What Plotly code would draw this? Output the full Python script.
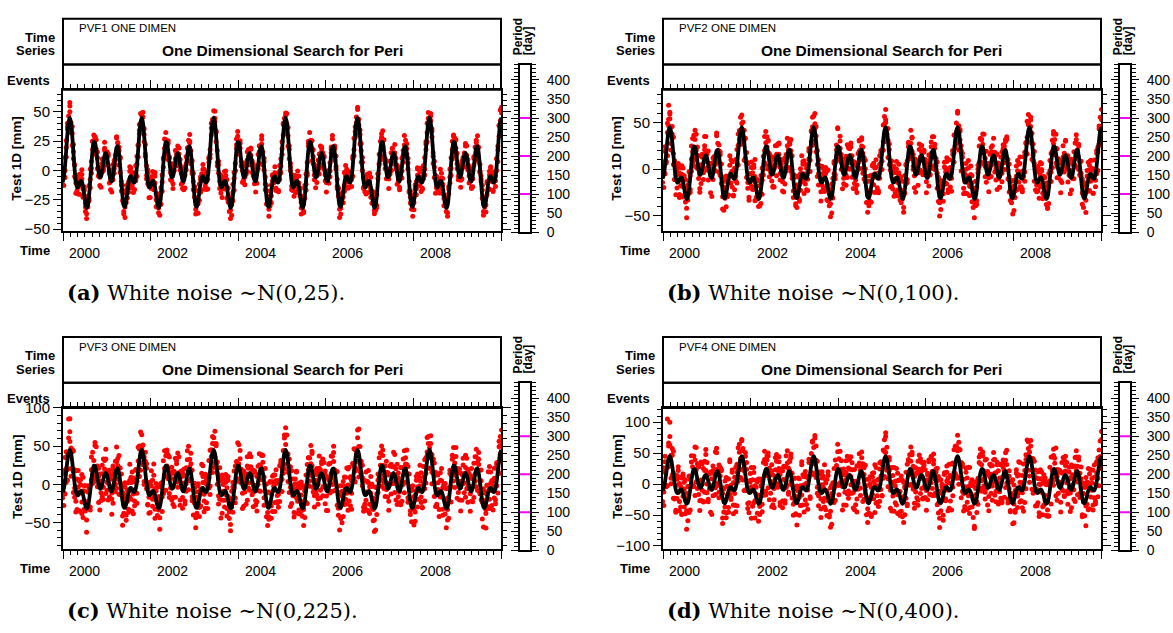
import numpy as np
import pandas as pd
import plotly.graph_objects as go

W, H = 1173, 633

# Seasonal model (mm), sampled every 10 days from 1999-12-29
sample_start = "1999-12-29"
sample_step = "10D"
model_mm = [
    -10.1, -5.7, 4.1, 17.6, 31.3, 41.5,
    45.0, 40.6, 29.6, 15.1, 1.0, -9.3, -14.1, -14.0, -11.2, -8.8,
    -9.3, -13.7, -20.9, -28.0, -31.9, -30.0, -21.7, -8.7, 5.9, 17.9,
    24.3, 23.8, 17.3, 7.8, -0.9, -5.7, -5.2, -0.1, 7.1, 13.0,
    15.0, 12.1, 5.4, -2.6, -8.3, -9.3, -4.9, 3.7, 13.1, 19.8,
    20.7, 14.8, 3.4, -10.4, -22.6, -30.0, -31.0, -26.3, -18.4, -10.6,
    -5.7, -4.8, -7.0, -9.8, -10.1, -5.7, 4.1, 17.6, 31.3, 41.5,
    45.0, 40.6, 29.6, 15.1, 1.0, -9.3, -14.1, -14.0, -11.2, -8.8,
    -9.3, -13.7, -20.9, -28.0, -31.9, -30.0, -21.7, -8.7, 5.9, 17.9,
    24.3, 23.8, 17.3, 7.8, -0.9, -5.7, -5.2, -0.1, 7.1, 13.0,
    15.0, 12.1, 5.4, -2.6, -8.3, -9.3, -4.9, 3.7, 13.1, 19.8,
    20.7, 14.8, 3.4, -10.4, -22.6, -30.0, -31.0, -26.3, -18.4, -10.6,
    -5.7, -4.8, -7.0, -9.8, -10.1, -5.7, 4.1, 17.6, 31.3, 41.5,
    45.0, 40.6, 29.6, 15.1, 1.0, -9.3, -14.1, -14.0, -11.2, -8.8,
    -9.3, -13.7, -20.9, -28.0, -31.9, -30.0, -21.7, -8.7, 5.9, 17.9,
    24.3, 23.8, 17.3, 7.8, -0.9, -5.7, -5.2, -0.1, 7.1, 13.0,
    15.0, 12.1, 5.4, -2.6, -8.3, -9.3, -4.9, 3.7, 13.1, 19.8,
    20.7, 14.8, 3.4, -10.4, -22.6, -30.0, -31.0, -26.3, -18.4, -10.6,
    -5.7, -4.8, -7.0, -9.8, -10.1, -5.7, 4.1, 17.6, 31.3, 41.5,
    45.0, 40.6, 29.6, 15.1, 1.0, -9.3, -14.1, -14.0, -11.2, -8.8,
    -9.3, -13.7, -20.9, -28.0, -31.9, -30.0, -21.7, -8.7, 5.9, 17.9,
    24.3, 23.8, 17.3, 7.8, -0.9, -5.7, -5.2, -0.1, 7.1, 13.0,
    15.0, 12.1, 5.4, -2.6, -8.3, -9.3, -4.9, 3.7, 13.1, 19.8,
    20.7, 14.8, 3.4, -10.4, -22.6, -30.0, -31.0, -26.3, -18.4, -10.6,
    -5.7, -4.8, -7.0, -9.8, -10.1, -5.7, 4.1, 17.6, 31.3, 41.5,
    45.0, 40.6, 29.6, 15.1, 1.0, -9.3, -14.1, -14.0, -11.2, -8.8,
    -9.3, -13.7, -20.9, -28.0, -31.9, -30.0, -21.7, -8.7, 5.9, 17.9,
    24.3, 23.8, 17.3, 7.8, -0.9, -5.7, -5.2, -0.1, 7.1, 13.0,
    15.0, 12.1, 5.4, -2.6, -8.3, -9.3, -4.9, 3.7, 13.1, 19.8,
    20.7, 14.8, 3.4, -10.4, -22.6, -30.0, -31.0, -26.3, -18.4, -10.6,
    -5.7, -4.8, -7.0, -9.8, -10.1, -5.7, 4.1, 17.6, 31.3, 41.5,
    45.0, 40.6, 29.6, 15.1, 1.0, -9.3, -14.1, -14.0, -11.2, -8.8,
    -9.3, -13.7, -20.9, -28.0, -31.9, -30.0, -21.7, -8.7, 5.9, 17.9,
    24.3, 23.8, 17.3, 7.8, -0.9, -5.7, -5.2, -0.1, 7.1, 13.0,
    15.0, 12.1, 5.4, -2.6, -8.3, -9.3, -4.9, 3.7, 13.1, 19.8,
    20.7, 14.8, 3.4, -10.4, -22.6, -30.0, -31.0, -26.3, -18.4, -10.6,
    -5.7, -4.8, -7.0, -9.8, -10.1, -5.7, 4.1, 17.6, 31.3, 41.5,
    45.0,
]

# Observations as departures from the model (mm):
# two per sample date in resid_*, one more per sample date in extra_*
resid_pvf1 = [
    3, -2, 6, 1, -4, 7, 2, -6, 9, 4, 5, -1, 13, 5, 0, -7, 2, 8, -5, 1,
    -6, 4, 2, -1, 8, -3, 0, 5, -9, 3, 1, -4, 6, 2, -2, -8, 4, 7, -3, 0,
    5, -5, -1, 3, 9, -2, -6, 1, 2, -4, 7, 0, -3, 6, -10, 4, 1, -2, 3, 8,
    -4, 2, 0, -7, 5, 3, -1, 6, -2, -5, 4, 11, -3, 1, 2, -6, 7, -1, 0, 3,
    1, -8, 4, 2, -3, 6, 5, -2, -4, 0, 8, -6, 3, -1, 2, 5, -5, 7, -2, 1,
    6, -3, -7, 2, 0, 4, -1, 9, 3, -5, -2, 1, 5, -4, 7, 0, -6, 2, 3, -9,
    2, 5, -1, -3, 8, 1, -6, 4, 0, 3, -2, 7, -8, 2, 5, -4, 1, 6, -3, -1,
    -5, 3, 7, -2, 1, -9, 4, 0, 6, -3, 2, -1, -6, 5, 3, 12, -4, 1, -2, 8,
    0, -4, 2, 6, -7, 3, 5, -1, -3, 4, 1, -5, 8, 2, -2, 0, 6, -8, 3, 4,
    -1, 7, -3, 2, 4, -6, 0, 5, 3, -2, -9, 1, 6, -4, 2, 7, -1, -5, 4, 0,
    3, -2, 5, -7, 1, 8, -3, 2, -5, 6, 0, -1, 4, 3, -8, 2, 5, -4, 1, -6,
    7, 0, -3, 4, 2, -5, 9, -2, 1, -7, 3, 5, -1, 0, 6, -4, -2, 8, 2, -3,
    -6, 1, 4, -2, 3, 7, -4, 0, 5, -1, -8, 2, 6, -3, 1, 4, -5, 3, -11, 2,
    4, -3, 0, 6, -5, 2, 8, -1, -4, 3, 1, -7, 5, 2, -2, 6, 0, -6, 3, 1,
    -2, 5, -8, 1, 3, -4, 7, 2, 0, -6, 4, 1, -3, 9, -1, -5, 2, 6, -4, 0,
    1, 6, -2, -5, 4, 0, -3, 7, 2, -8, 5, -1, 3, -4, 6, 1, -7, 2, 4, -2,
    -3, 2, 7, -1, -6, 4, 1, -2, 8, 3, -5, 0, 2, 6, -9, 1, 4, -3, 5, -1,
    5, -6, 1, 3, -2, 9, -4, 0, 6, -3, 2, 7, -1, -5, 3, 0, -8, 4, 1, 2,
    -7, 3, 5, -2, 0, 6, -4, 1, -1, 8, 3, -6, 2, 4, -3, -1, 7, 0, -5, 3,
    2, -1, -4, 6, 5, -3, 1, 8, -7, 0, 4, 2, -2, -6, 9, 3, -1, 5, -4, 1,
    0, 4, -5, 2, 7, -2, -3, 6, 1, -8, 3, 5, -4, 0, 2, -6, 8, 1, -2, 4,
    -3, 6, 2, -9, 1, 4, -1, 3, -5, 7, 0, -2, 5, 1, -7, 3, 6, -4, 2, -1,
    4, -2, 8, 1, -6, 0, 3, -4, 5, 2, -3, 7, -1, -8, 4, 6, -2, 0, 3, -5,
    1, 7, -3, 5, -1, -6, 2, 4, 0, -4, 9, -2, 3, 1, -5, 6, -7, 2, 5, 0,
    -4, 3, 1, -2, 6, 8, -5, 0, 2, -3, 4, -1, -6, 7, 3, -2, 1, 5, -8, 2,
    6, -1, -5, 3, 0, 4, 7, -6, 1, 2, -3, 5, -4, 0, 8, -2, 3, -7, 1, 4,
    -2, 5, 3, -4, 1, -8, 6, 2, -1, 0, 7, -5, 4, 3, -3, 1, -6, 9, 2, -2,
    3, -6, 0, 4, -2, 5, 1, -3, 8, -7, 2, 6, -1, -4, 3, 0, 5, -2, -9, 4,
    -1, 2, 6, -5, 3, 1, -4, 7, 0, 4, -6, 2, 5, -3, -1, 8, -2, 3, 1, -7,
    5, 0, -3, 2, -8, 6, 4, -1, -2, 3, 1, -5, 7, 2, -4, 0, 6, -6, 3, 1,
    -5, 4, 2, -1, 7, -3, 0, 5, -7, 1, 3, 8, -2, -4, 6, 2, -1, 4, -3, 0,
    2, -7, 5, 3, -1, 0, 6, -4, 4, -2, -5, 1, 3, 7, -6, 2, 0, -3, 5, 1,
    -3, 1, 4, -6, 2, 8, -2, 3, -4, 5, 0, -8, 6, 1, -1, 4, -5, 2, 7, -2,
    4, -4, 1, 6, -3, 2, 5, -7, 0, 3, 2, -1, -6, 8, 1, -3, 4, 0, -2, 6,
    0, 3, -6, 2, 5, -2, 7, 1, -4, -1, 4, 6, -3, 0, -7, 5, 2, -5, 3, 1,
    -1, 6, 2, -5, 3, 0, -3, 4, 8, -2, 1, -6, 5, 2, -4, 7, -1, 3, 0, -8,
    2, 5, -3, 1, 6, -4, 0, 3, -2, 7, -5, 1, 4, 9,
]
extra_pvf1 = [
    9, -7, -10, 8, 6, -9, 10, -5, -8, 7, 4, -10, 9, -6, 8, -3, 10, -9, 6, -7,
    -9, 8, -4, 10, -8, 7, -10, 5, 9, -6, -3, 8, -9, 10, -7, 6, -10, 4, 9, -8,
    7, -9, 10, -6, -8, 9, 3, -10, 8, -7, 10, -5, -9, 7, 6, -8, 9, -10, 5, 8,
    -6, 10, -9, 4, 8, -7, -10, 9, -5, 7, -8, 10, 6, -9, -4, 8, -7, 9, -10, 6,
    10, -8, 7, -9, 5, 9, -6, -10, 8, 3, -7, 9, -10, 6, 10, -5, -8, 7, 4, -9,
    -7, 9, -10, 8, -4, 6, 10, -9, -6, 8, 9, -7, 5, -10, 7, -8, 3, 10, -9, 6,
    8, -10, 6, -7, 9, -5, -9, 10, 4, -8, 7, -6, 10, -9, -3, 8, 9, -10, 6, -7,
    -9, 7, 10, -8, -6, 9, 5, -10, 8, -4, -9, 10, -7, 6, 9, -8, -10, 7, 3, 8,
    6, -9, 8, 10, -7, -5, 9, -10, 7, -6, 10, 4, -8, 9, -9, 6, -4, 8, -10, 7,
    -8, 10, -6, 7, 9, -10, -3, 8, -9, 6, 5, -7, 10, -8, 7, -10, 9, -5, 6, -9,
    10, -6, 9, -8, -10, 7, 8, -4, -9, 10, -7, 6, -5, 9, -10, 8, 4, -9, 7, -6,
    -10, 8, 5, -9, 7, 10, -8, -6, 9, -3, 8, -10, 6, 7, -9, -7, 10, 5, -8, 9,
    7, -8, -9, 10, 6, -5, 9, -10, -7, 8, 10, -6, -4, 9, 8, -10, 7, -9, 3, 10,
    -5, 9, -10, 6, 8, -9, 7, 10, -8, -6, 9, 5, -10, 8, -7, 6, -9, 10, -4, 7,
    9, -7, 8, -10, -6, 10, -9, 4, 7, -8, -5, 9, 10, -7, 6, -10, 8, -3, 9, -8,
    -6, 10, -8, 7, 9, -4, -10, 8, 6, -9, 7, -10, 9, 5, -8, 10, -6, 7, -9, 4,
    8, -9, 6, 10, -10, 7, 5, -8, 9, -6, -7, 10, -9, 8, 4, -10, 6, 9, -5, -8,
    10, -5, -9, 8, 7, -10, 9, -7, -4, 6, 10, -8, 7, -9, 9, -6, -10, 8, 5, -7,
    9, -8, 6, -10, 7, 10, -6,
]
resid_pvf2 = [
    6, -4, 12, 3, -9, 15, 4, -11, 18, 8, 27, 5, 9, 14, -2, -13, 5, 16, -10, 2,
    -12, 8, 3, -2, 17, -6, 1, 10, -19, 7, 2, -9, 13, 4, -5, -16, 9, 14, -7, 0,
    11, -10, -3, 6, 19, -4, -13, 2, 5, -8, 15, 1, -6, 12, -21, 8, 3, -4, 7, 16,
    -9, 5, 0, -15, 10, 6, -2, 13, -5, -11, 8, 22, -7, 3, 4, -12, 14, -3, 1, 6,
    2, -17, 9, 4, -6, 12, 10, -4, -8, 1, 16, -13, 7, -2, 5, 11, -10, 15, -5, 3,
    13, -7, -14, 4, 0, 9, -3, 19, 6, -11, -4, 2, 10, -9, 15, 1, -12, 5, 7, -18,
    4, 11, -2, -7, 17, 3, -13, 8, 1, 6, -5, 14, -16, 4, 10, -8, 2, 12, -6, -3,
    -10, 7, 15, -5, 2, -19, 9, 0, 13, -7, 5, -2, -12, 11, 6, 24, -9, 3, -4, 17,
    1, -8, 5, 12, -15, 6, 10, -3, -6, 8, 2, -11, 16, 4, -5, 0, 13, -17, 7, 9,
    -2, 14, -7, 5, 9, -13, 1, 11, 6, -4, -20, 3, 12, -8, 4, 15, -3, -10, 8, 0,
    7, -5, 10, -15, 3, 17, -6, 4, -11, 12, 1, -2, 9, 6, -17, 5, 11, -9, 2, -13,
    14, 0, -7, 8, 4, -10, 19, -4, 2, -14, 6, 11, -3, 1, 13, -9, -5, 16, 5, -6,
    -12, 3, 9, -5, 7, 15, -8, 1, 10, -2, -16, 4, 12, -6, 3, 8, -11, 6, -23, 5,
    9, -6, 1, 13, -10, 4, 17, -3, -9, 7, 2, -15, 11, 5, -4, 12, 0, -13, 6, 3,
    -5, 10, -17, 2, 7, -9, 15, 4, 1, -12, 8, 3, -7, 19, -2, -11, 5, 13, -8, 0,
    3, 12, -4, -10, 9, 1, -6, 14, 5, -16, 10, -2, 7, -8, 12, 2, -14, 4, 8, -5,
    -7, 5, 15, -2, -12, 8, 3, -4, 17, 6, -10, 1, 4, 13, -19, 2, 9, -6, 11, -3,
    10, -13, 2, 7, -5, 18, -8, 1, 12, -6, 4, 15, -3, -11, 6, 0, -17, 9, 3, 5,
    -15, 6, 11, -4, 1, 13, -9, 3, -2, 16, 7, -12, 5, 8, -6, -3, 14, 1, -10, 6,
    4, -2, -9, 12, 10, -7, 2, 17, -14, 1, 9, 5, -5, -13, 19, 6, -3, 11, -8, 2,
    0, 9, -11, 5, 15, -4, -7, 13, 3, -17, 6, 10, -9, 1, 4, -12, 16, 2, -5, 8,
    -6, 12, 4, -19, 3, 8, -2, 7, -11, 14, 0, -4, 10, 3, -15, 6, 13, -8, 5, -3,
    9, -5, 16, 2, -13, 1, 7, -9, 11, 4, -7, 15, -2, -17, 8, 12, -4, 0, 6, -10,
    2, 14, -6, 10, -3, -12, 5, 9, 1, -8, 18, -5, 7, 3, -11, 13, -15, 4, 10, 0,
    -9, 6, 3, -4, 12, 16, -10, 0, 5, -7, 8, -2, -13, 15, 6, -4, 2, 11, -17, 5,
    12, -3, -11, 7, 1, 9, 14, -12, 3, 4, -6, 10, -9, 0, 17, -5, 6, -14, 2, 8,
    -4, 11, 6, -9, 2, -16, 13, 5, -3, 1, 15, -10, 8, 7, -6, 3, -12, 20, 4, -5,
    7, -13, 0, 9, -4, 11, 2, -7, 16, -15, 5, 12, -2, -9, 6, 1, 10, -5, -19, 8,
    -2, 4, 13, -10, 6, 3, -8, 15, 1, 9, -13, 5, 11, -6, -3, 17, -4, 7, 2, -14,
    10, 1, -6, 5, -17, 12, 8, -3, -5, 7, 3, -11, 15, 4, -9, 0, 13, -12, 6, 2,
    -11, 8, 4, -2, 14, -7, 1, 10, -15, 3, 6, 17, -4, -8, 12, 5, -2, 9, -6, 0,
    5, -14, 11, 6, -3, 1, 13, -9, 8, -5, -10, 2, 7, 15, -12, 4, 0, -7, 10, 3,
    -6, 2, 9, -12, 4, 17, -4, 7, -9, 11, 1, -16, 13, 3, -2, 8, -11, 5, 14, -5,
    8, -8, 3, 12, -7, 5, 10, -14, 0, 6, 4, -3, -12, 16, 2, -6, 9, 1, -4, 13,
    1, 7, -13, 4, 11, -5, 15, 2, -9, -2, 8, 12, -6, 0, -15, 10, 5, -10, 6, 3,
    -3, 12, 5, -11, 7, 0, -7, 9, 17, -4, 2, -13, 10, 5, -8, 14, -2, 6, 1, -16,
    4, 10, -6, 3, 13, -9, 1, 6, -5, 15, -11, 2, 8, 19,
]
extra_pvf2 = [
    18, -14, 20, -9, -17, 12, 16, -20, 8, 19, -12, -18, 14, 20, -16, 10, -19, 15, -8, 17,
    -20, 13, 9, -16, 19, -11, -14, 18, 20, -7, 15, -19, -10, 16, -18, 12, 20, -13, -17, 9,
    14, -20, 17, 8, -15, 19, -9, -18, 12, 16, -20, 11, 18, -14, 7, -17, 20, -10, 15, -19,
    -12, 16, -19, 20, 10, -15, 13, -8, -20, 18, 17, -11, -16, 9, 19, -13, 14, -20, 8, 16,
    20, -9, 15, -18, -12, 17, -20, 11, 14, -16, 9, 19, -14, -19, 18, 12, -8, 16, -17, 13,
    -15, 19, -11, 12, 20, -18, 8, 17, -13, -20, 16, -9, 14, 18, -16, -12, 20, 10, -19, 15,
    11, -17, 18, -20, 9, 14, -15, 19, 16, -10, -18, 13, -20, 17, 12, -14, 8, -19, 20, -11,
    -19, 14, 12, 17, -16, -9, 20, -13, 18, 8, -20, 15, 10, -17, 19, -12, -15, 16, 9, -18,
    16, -12, -20, 13, 18, -19, 11, 9, -14, 20, 15, -16, -8, 19, -17, 14, 12, -20, 17, -10,
    -13, 20, 16, -18, -11, 15, 19, -9, -17, 12, -20, 18, 14, -15, 8, 17, -19, 10, -12, 20,
    19, -16, 9, 14, -20, 11, -13, 18, 17, -8, -19, 16, 12, -17, 20, -14, 10, -18, 15, 13,
    -17, 12, 20, -10, 16, -19, 14, -15, 8, 18, -12, -20, 19, 11, -16, 13, -9, 17, -18, 20,
    12, -18, 15, 19, -9, -14, 17, -20, 13, 10, 16, -17, -11, 20, -15, 18, -19, 8, 14, -13,
    -20, 17, -12, 9, 19, 15, -18, 14, -10, -16, 20, 12, -19, 16, 11, -8, 18, -15, -17, 19,
    15, -10, 18, -17, 13, -20, 9, 20, -14, 16, -11, 17, 19, -18, -12, 14, -16, 10, 20, -9,
    -14, 19, -17, 11, 20, 8, -16, 15, -19, 12, 18, -13, -10, 17, -20, 16, 9, -18, 13, 19,
    17, -11, -15, 18, -19, 13, 16, -8, 20, -17, 12, 14, -20, 9, 18, -16, 15, -12, -19, 11,
    -18, 20, 10, -14, 15, 17, -19, 12, -9, 19, -15, 16, 13, -20, 11, 18, -17, 14, 8, -16,
    20, -13, 16, -19, 12, 14, -10,
]
resid_pvf3 = [
    -8, 14, 21, -5, 9, -17, 3, 25, -12, 6, 44, -3, 41, 11, -20, 7, 16, -9, 2, -26,
    18, -6, -13, 27, 4, -19, 10, 1, -24, 15, 8, -2, 22, -14, 5, -30, 12, 19, -7, 3,
    -15, 9, 28, -1, -10, 17, 6, -21, 13, 0, -5, 24, -18, 7, 31, -12, 2, -8, 16, -3,
    11, -23, 4, 19, -6, 9, -16, 14, 26, -11, 1, 7, -27, 18, 3, -9, 12, -4, 21, -14,
    6, 15, -10, -2, 29, -20, 8, 3, -13, 17, 10, -25, 4, 13, -7, 23, -1, -17, 9, 5,
    -19, 12, 2, -8, 16, 33, -14, 6, -4, 20, -22, 1, 11, -11, 7, 14, -28, 10, -3, 18,
    3, -12, 24, 9, -16, 0, 13, -6, 19, -21, 5, 27, -9, 2, -15, 11, 6, -26, 15, 8,
    -7, 20, -18, 4, 12, -3, -23, 17, 1, 9, -11, 14, 36, -5, 8, -19, 22, 0, -13, 10,
    16, -2, 7, -29, 18, 5, -8, 11, -17, 25, 3, -6, 13, -14, 0, 21, -10, 4, 28, -20,
    -4, 9, -15, 22, 2, -12, 17, 7, -24, 6, 14, -1, -19, 26, -7, 3, 10, -33, 12, 1,
    23, -9, 5, 11, -21, 16, -3, -13, 8, 19, -5, 30, -16, 2, 12, -8, -25, 15, 4, -11,
    -2, 18, -27, 6, 14, -7, 24, 1, -12, 9, -18, 3, 20, -4, 7, 29, -15, -6, 13, -22,
    10, -14, 2, 17, -9, 4, -20, 27, 5, -1, 12, -26, 8, 16, -5, -13, 21, -3, 0, 14,
    -16, 6, 31, -10, 3, 19, -7, -24, 11, 2, 15, -12, -4, 22, 9, -18, 5, 26, -8, -1,
    13, -21, 8, 0, -15, 24, 4, -9, 18, -30, 7, 12, -2, -17, 28, 3, -11, 16, -6, 9,
    -11, 4, 19, -23, 10, -5, 14, 2, -28, 17, -3, 8, 25, -13, 1, 11, -19, 6, 20, -8,
    7, 26, -12, 3, -18, 15, 9, -4, -22, 12, 4, -14, 18, 0, -9, 23, 6, -31, 10, 2,
    -20, 11, 5, -7, 21, -15, 2, 30, -10, 6, -25, 14, 3, -2, 17, -19, 8, 12, -5, -13,
    15, -3, -17, 9, 1, 27, -11, 4, 13, -6, -21, 19, -8, 7, 24, -1, -14, 10, 3, -26,
    -5, 22, 6, -16, 12, -1, -29, 8, 18, 2, -9, 25, -13, 4, 11, -20, 16, 0, -7, 14,
    9, -10, 28, -3, -22, 13, 5, -15, 20, -6, 1, 17, -27, 10, 3, -12, 23, 7, -18, 4,
    -14, 16, -4, 11, 26, -9, 0, -19, 8, 14, -31, 6, 12, -2, -16, 21, 2, -8, 15, -23,
    6, -7, 19, -25, 3, 10, -13, 24, 1, -5, 17, -20, 9, 29, -11, 4, -3, 13, -17, 7,
    -9, 12, 2, 18, -14, 5, -24, 11, 22, -3, 8, -16, 0, 15, -7, -21, 27, 6, -12, 3,
    20, -18, 10, -6, 1, 23, -10, 7, -28, 14, 5, -2, 16, -15, 9, 32, -4, -13, 11, -1,
    -3, 8, -21, 13, 19, -12, 4, -7, 15, 0, -26, 11, 6, -17, 24, 2, -9, 18, -5, 10,
    12, -15, 5, -30, 9, 17, -2, 22, -8, 3, -13, 7, 26, -19, 1, 14, -6, -23, 8, 16,
    -6, 3, 21, -11, -17, 6, 13, 0, -20, 19, 10, -4, -14, 8, 27, -9, 4, 15, -24, 2,
    17, -8, -1, 12, 5, -22, 18, -5, 9, -13, 24, 3, -18, 6, -2, 11, -27, 20, 7, -10,
    -12, 14, 7, -19, 23, 1, -6, 10, 4, -30, 16, -9, 2, 19, -4, -15, 12, 5, 25, -7,
    2, -20, 15, 8, -10, 28, -3, -16, 11, 6, -7, 21, -24, 3, 13, -1, 9, -14, 18, 0,
    -17, 10, -5, 25, 4, -12, 7, 16, -22, 1, 14, -8, 30, -6, -19, 9, 2, 20, -11, 5,
    8, -25, 12, -3, 17, 0, -14, 23, 6, -9, -2, 15, -20, 11, 4, -28, 19, -4, 7, 13,
    -10, 5, 26, -15, 2, 9, -21, 13, -6, 18, 1, -11, 7, -32, 22, 3, -8, 14, -1, 10,
    19, -4, -13, 6, 12, -18, 3, 24, -9, 0, -23, 16, 8, -5, 11, 27, -16, 1, -10, 15,
    -1, 13, -26, 9, 4, 20, -7, -12, 17, 5, -19, 2, 29, -14, 6, -3, 10, -21, 14, 7,
    -8, 18, 3, -15, 22, -6, 11, 1, -17, 25, -2, 9, -12, 26,
]
extra_pvf3 = [
    28, -22, 31, -15, -26, 19, 24, -30, 13, 29, -18, -27, 21, 32, -24, 15, -29, 23, -12, 26,
    -31, 20, 14, -25, 30, -17, -21, 27, 32, -11, 22, -28, -16, 25, -27, 18, 31, -20, -26, 14,
    21, -30, 26, 12, -23, 29, -14, -28, 18, 24, -31, 17, 27, -21, 11, -26, 32, -15, 23, -29,
    -18, 25, -29, 31, 15, -23, 20, -12, -30, 27, 26, -17, -24, 14, 29, -20, 21, -31, 12, 24,
    30, -14, 23, -27, -18, 26, -32, 17, 21, -25, 14, 28, -21, -29, 27, 18, -12, 24, -26, 20,
    -23, 29, -17, 18, 31, -27, 12, 26, -20, -30, 24, -14, 21, 27, -24, -18, 32, 15, -29, 23,
    17, -26, 27, -31, 14, 21, -23, 29, 24, -15, -27, 20, -30, 26, 18, -21, 12, -28, 31, -17,
    -29, 21, 18, 26, -24, -14, 30, -20, 27, 12, -31, 23, 15, -26, 29, -18, -23, 24, 14, -27,
    24, -18, -30, 20, 27, -29, 17, 14, -21, 31, 23, -24, -12, 29, -26, 21, 18, -31, 26, -15,
    -20, 30, 24, -27, -17, 23, 29, -14, -26, 18, -30, 27, 21, -23, 12, 26, -29, 15, -18, 31,
    29, -24, 14, 21, -31, 17, -20, 27, 26, -12, -29, 24, 18, -26, 30, -21, 15, -27, 23, 20,
    -26, 18, 31, -15, 24, -29, 21, -23, 12, 27, -18, -30, 29, 17, -24, 20, -14, 26, -27, 32,
    18, -27, 23, 29, -14, -21, 26, -31, 20, 15, 24, -26, -17, 30, -23, 27, -29, 12, 21, -20,
    -30, 26, -18, 14, 29, 23, -27, 21, -15, -24, 31, 18, -29, 24, 17, -12, 27, -23, -26, 29,
    23, -15, 27, -26, 20, -31, 14, 30, -21, 24, -17, 26, 29, -27, -18, 21, -24, 15, 32, -14,
    -21, 29, -26, 17, 30, 12, -24, 23, -29, 18, 27, -20, -15, 26, -31, 24, 14, -27, 20, 29,
    26, -17, -23, 27, -29, 20, 24, -12, 31, -26, 18, 21, -30, 14, 27, -24, 23, -18, -29, 17,
    -27, 30, 15, -21, 23, 26, -29, 18, -14, 29, -23, 24, 20, -31, 17, 27, -26, 21, 12, -24,
    31, -20, 24, -29, 18, 21, -15,
]
resid_pvf4 = [
    11, -18, 26, -7, 15, 32, -22, 9, 74, -4, 20, -13, 55, 18, -31, 6, 28, -15, 3, -38,
    -25, 14, 7, -33, 22, -9, 1, 36, -17, 12, -28, 5, 19, -40, 27, -6, 13, 24, -20, 2,
    17, -11, -29, 8, 35, -24, 4, 16, -7, 30, -19, 10, -3, 21, -42, 15, 6, -14, 25, -2,
    -16, 29, 3, -21, 12, 41, -10, 0, -35, 18, 9, -26, 33, 7, -12, 23, -30, 11, -5, 20,
    6, -37, 18, 2, -14, 27, 13, -8, 39, -19, 4, 31, -23, -1, 16, -28, 10, 22, -9, 34,
    -32, 8, 24, -15, 5, -6, 37, -20, 14, 1, -27, 19, 45, -11, 3, -17, 26, -3, 12, -24,
    21, -5, 10, -39, 28, 15, -13, 6, -22, 33, 0, -18, 25, 9, -34, 17, 2, -8, 30, -26,
    -9, 23, -30, 13, 4, -16, 31, 20, -44, 7, 16, -2, -21, 36, 11, -13, 5, 27, -19, 1,
    14, -28, 38, -6, 19, 3, -24, 12, 29, -17, -4, 22, -36, 8, 15, -10, 33, -23, 6, 18,
    -14, 5, 27, -31, 9, 20, -7, -25, 16, 2, 35, -12, 7, -20, 24, 13, -40, 10, -1, 26,
    30, -19, 3, 17, -26, 11, 42, -9, -15, 21, 6, -33, 18, 1, -11, 28, -5, 14, -22, 4,
    -7, 32, -18, 10, 23, -35, 5, 15, -3, 27, -24, 8, -12, 37, 2, -29, 19, 6, -16, 25,
    12, -23, 16, -4, 31, 7, -38, 20, 4, -13, 26, -1, -27, 14, 34, -8, 9, -19, 22, -30,
    -20, 18, 1, 29, -10, -26, 13, 24, -17, 6, 40, -14, 11, -32, 3, 21, -6, 35, -25, 8,
    26, -12, -35, 15, 7, 22, -21, 2, 33, -9, -18, 12, 28, -3, -41, 17, 5, -15, 10, 30,
    -3, 16, 25, -28, 11, -8, 19, 38, -23, 4, 13, -36, 9, 24, -13, 0, 29, -20, 7, -11,
    9, -33, 14, 6, -19, 34, -2, -12, 21, 17, -26, 3, 31, -7, 15, -43, 12, 23, -5, 1,
    -27, 20, 8, -10, 39, -16, 27, 4, -31, 13, -6, 22, -18, 10, 2, 36, -24, 5, 16, -9,
    18, 3, -22, 30, -13, 9, -37, 15, 24, -1, 11, -29, 6, 32, -15, 19, -4, -21, 28, 7,
    -11, 25, 12, -34, 17, -5, 2, 41, -19, 8, -25, 14, 27, -8, -2, 20, -30, 9, 35, -16,
    4, -21, 33, 10, -28, 16, 7, -14, 26, -38, 19, 1, -9, 23, 13, -24, 5, 30, -12, 21,
    -30, 13, -7, 22, 3, -17, 37, -26, 10, 17, -4, 28, -22, 6, -35, 14, 25, -10, 2, -19,
    15, -2, 27, -16, 9, 44, -20, 5, -11, 31, 1, -27, 18, 12, -6, -33, 21, 8, -23, 16,
    -8, 35, -25, 4, 20, -12, 11, 26, -40, 7, 29, -15, 3, -21, 24, 10, -3, 17, -29, 12,
    22, -17, 6, 38, -9, -23, 14, 1, 30, -14, -32, 20, 9, -5, 16, 27, -20, 2, -37, 13,
    -13, 28, 17, -6, -26, 10, 3, 33, -18, 21, -10, 5, 36, -29, 12, -2, 19, -16, 8, 25,
    5, -36, 23, 13, -7, 18, -24, 0, 29, -12, 15, 39, -19, 7, -30, 22, 4, -9, 31, -21,
    16, -6, -28, 26, 1, -15, 32, 11, -22, 9, -39, 17, 24, -11, 6, 28, -17, 13, -2, 34,
    -24, 11, 19, -3, 37, -18, 7, -31, 14, 20, -8, 2, -26, 30, 17, -13, 9, -34, 23, 3,
    27, -20, 4, 15, -33, 12, 25, -6, 8, -27, 34, 1, -14, 19, -9, 41, -22, 10, 6, -17,
    -4, 24, -38, 9, 18, -11, 30, -25, 3, 14, -19, 27, 7, -42, 21, 0, 12, -7, 26, -30,
    13, -9, 20, 32, -21, 6, -16, 23, 11, -35, 8, 17, -4, 29, -23, 15, 36, -13, 1, 10,
    -19, 31, 2, -12, 25, -30, 14, 7, -6, 38, -15, 4, 22, -26, 10, 18, -2, -36, 16, 5,
    20, -14, 9, 27, -24, 3, -8, 35, 12, -18, 26, -33, 6, 15, -10, 23, 1, -21, 30, -5,
    -6, 17, -29, 21, 4, 33, -13, 10, -41, 16, 2, 24, -17, 8, 29, -7, -25, 14, 5, 19,
    8, -27, 15, 1, -20, 26, 37, -9, 18, -14, -31, 12, 22, 3, -16, 28, -3, 9, -24, 32,
    -12, 21, 6, -22, 30, 14, -8, 25, -34, 11, 3, -15, 27, 40,
]
extra_pvf4 = [
    37, -29, 41, -20, -34, 25, 32, -40, 17, 38, -24, -36, 28, 42, -32, 20, -39, 30, -16, 35,
    -41, 26, 18, -33, 40, -22, -28, 36, 42, -15, 29, -37, -21, 33, -36, 24, 41, -26, -34, 19,
    28, -40, 34, 16, -30, 38, -19, -37, 24, 32, -41, 22, 36, -28, 15, -35, 42, -20, 30, -38,
    -24, 33, -39, 41, 20, -31, 27, -16, -40, 36, 34, -22, -32, 18, 38, -27, 28, -41, 16, 32,
    40, -19, 30, -36, -24, 35, -42, 22, 28, -33, 18, 37, -28, -38, 36, 24, -16, 32, -35, 26,
    -30, 38, -22, 24, 41, -36, 16, 34, -26, -40, 32, -19, 28, 36, -32, -24, 42, 20, -38, 30,
    22, -35, 36, -41, 18, 28, -30, 38, 32, -20, -36, 26, -40, 34, 24, -28, 16, -37, 41, -22,
    -38, 28, 24, 34, -32, -18, 40, -26, 36, 16, -41, 30, 20, -34, 38, -24, -30, 32, 18, -36,
    32, -24, -40, 26, 36, -38, 22, 18, -28, 41, 30, -32, -16, 38, -34, 28, 24, -41, 34, -20,
    -26, 40, 32, -36, -22, 30, 38, -18, -34, 24, -40, 36, 28, -30, 16, 34, -38, 20, -24, 41,
    38, -32, 18, 28, -41, 22, -26, 36, 34, -16, -38, 32, 24, -34, 40, -28, 20, -36, 30, 26,
    -34, 24, 41, -20, 32, -38, 28, -30, 16, 36, -24, -40, 38, 22, -32, 26, -18, 34, -36, 42,
    24, -36, 30, 38, -18, -28, 34, -41, 26, 20, 32, -34, -22, 40, -30, 36, -38, 16, 28, -26,
    -40, 34, -24, 18, 38, 30, -36, 28, -20, -32, 41, 24, -38, 32, 22, -16, 36, -30, -34, 38,
    30, -20, 36, -34, 26, -41, 18, 40, -28, 32, -22, 34, 38, -36, -24, 28, -32, 20, 42, -18,
    -28, 38, -34, 22, 40, 16, -32, 30, -38, 24, 36, -26, -20, 34, -41, 32, 18, -36, 26, 38,
    34, -22, -30, 36, -38, 26, 32, -16, 41, -34, 24, 28, -40, 18, 36, -32, 30, -24, -38, 22,
    -36, 40, 20, -28, 30, 34, -38, 24, -18, 38, -30, 32, 26, -41, 22, 36, -34, 28, 16, -32,
    41, -26, 32, -38, 24, 28, -20,
]

series_names = ["PVF1 ONE DIMEN", "PVF2 ONE DIMEN", "PVF3 ONE DIMEN", "PVF4 ONE DIMEN"]
plot_title = "One Dimensional Search for Peri"
panel_tags = ["(a)", "(b)", "(c)", "(d)"]
captions = ["White noise ∼N(0,25).", "White noise ∼N(0,100).",
            "White noise ∼N(0,225).", "White noise ∼N(0,400)."]
year_labels = ["2000", "2002", "2004", "2006", "2008"]
signal_periods = [100, 200, 300]   # days
period_range = [0, 440]

resids = [resid_pvf1, resid_pvf2, resid_pvf3, resid_pvf4]
extras = [extra_pvf1, extra_pvf2, extra_pvf3, extra_pvf4]

# per-panel vertical axis settings
y_ranges = [[-51.4, 68.8], [-66, 85], [-85, 100], [-105, 123]]
y_dticks = [25, 50, 50, 50]
y_minor = [5, 10, 10, 10]

SANS = "Liberation Sans, Arial, Helvetica, sans-serif"
SERIF = "DejaVu Serif, serif"

dates = pd.date_range(sample_start, periods=len(model_mm), freq=sample_step)
model = np.array(model_mm, dtype=float)
n = len(model)
for r, e in zip(resids, extras):
    if len(r) != 2 * n or len(e) != n:
        raise ValueError(f"series length mismatch: {len(r)}, {len(e)} vs {n}")

obs_dates = np.concatenate([np.repeat(dates.values, 2), dates.values])


def px(x):
    return x / W


def py(y):
    return 1 - y / H


def aid(k):
    return "" if k == 1 else str(k)


fig = go.Figure()
layout = dict(
    width=W, height=H, autosize=False,
    margin=dict(l=0, r=0, t=0, b=0, pad=0),
    paper_bgcolor="white", plot_bgcolor="white",
    showlegend=False, font=dict(family=SANS, color="black"),
)
annotations = []
shapes = []


def note(text, x, y, size, xanchor="center", yanchor="middle", angle=0,
         family=SANS, xref="paper", align="center"):
    annotations.append(dict(text=text, x=x, y=y, xref=xref, yref="paper",
                            xanchor=xanchor, yanchor=yanchor, align=align,
                            showarrow=False, textangle=angle,
                            font=dict(size=size, family=family, color="black")))


for i in range(4):
    ox = 600 * (i % 2)
    oy = 327 * (i // 2)
    m = 2 * i + 1
    b = 2 * i + 2

    # observations and model curve
    obs = np.concatenate([np.repeat(model, 2) + np.array(resids[i], dtype=float),
                          model + np.array(extras[i], dtype=float)])
    fig.add_trace(go.Scatter(
        x=obs_dates, y=obs, mode="markers",
        marker=dict(color="#ff0000", size=5, line=dict(width=0)),
        xaxis="x" + aid(m), yaxis="y" + aid(m), hoverinfo="skip"))
    fig.add_trace(go.Scatter(
        x=dates, y=model, mode="lines",
        line=dict(color="black", width=3.8, shape="spline", smoothing=0.8),
        xaxis="x" + aid(m), yaxis="y" + aid(m), hoverinfo="skip"))

    # period strip with the modelled periods
    bx, by = [], []
    for p in signal_periods:
        bx += [0, 1, None]
        by += [p, p, None]
    fig.add_trace(go.Scatter(
        x=bx, y=by, mode="lines", line=dict(color="#ff00ff", width=2),
        xaxis="x" + aid(b), yaxis="y" + aid(b), hoverinfo="skip"))

    layout["xaxis" + aid(m)] = dict(
        type="date", range=["2000-01-01", "2010-01-01"],
        domain=[px(63 + ox), px(501 + ox)], anchor="y" + aid(m),
        showline=True, linecolor="black", linewidth=2, mirror="allticks",
        ticks="outside", ticklen=8, tickwidth=1, tickcolor="black",
        tickmode="linear", tick0="2000-01-01", dtick="M24",
        showticklabels=False, showgrid=False, zeroline=False,
        minor=dict(ticks="outside", ticklen=4, tickwidth=1, tickcolor="black",
                   dtick="M2", tick0="2000-01-01", showgrid=False),
    )
    layout["yaxis" + aid(m)] = dict(
        range=y_ranges[i],
        domain=[py(228 + oy), py(83 + oy)], anchor="x" + aid(m),
        showline=True, linecolor="black", linewidth=2, mirror="allticks",
        ticks="outside", ticklen=8, tickwidth=1, tickcolor="black",
        tickmode="linear", tick0=0, dtick=y_dticks[i],
        tickfont=dict(size=15, family=SANS, color="black"),
        showgrid=False, zeroline=True, zerolinecolor="#d6d6d6", zerolinewidth=1,
        minor=dict(ticks="outside", ticklen=4, tickwidth=1, tickcolor="black",
                   dtick=y_minor[i], tick0=0, showgrid=False),
    )
    layout["xaxis" + aid(b)] = dict(
        range=[0, 1], domain=[px(520 + ox), px(530 + ox)], anchor="y" + aid(b),
        showline=True, linecolor="black", linewidth=2, mirror=True,
        ticks="", showticklabels=False, showgrid=False, zeroline=False,
    )
    layout["yaxis" + aid(b)] = dict(
        range=period_range, domain=[py(229.3 + oy), py(57.3 + oy)],
        anchor="x" + aid(b), side="right",
        showline=True, linecolor="black", linewidth=2, mirror="allticks",
        ticks="outside", ticklen=7, tickwidth=1, tickcolor="black",
        tickmode="linear", tick0=0, dtick=50, ticklabelstandoff=5,
        tickfont=dict(size=14, family=SANS, color="black"),
        showgrid=False, zeroline=False,
        minor=dict(ticks="outside", ticklen=4, tickwidth=1, tickcolor="black",
                   dtick=10, tick0=0, showgrid=False),
    )

    # header boxes
    shapes.append(dict(type="rect", xref="paper", yref="paper",
                       x0=px(63 + ox), x1=px(501 + ox), y0=py(57 + oy), y1=py(10 + oy),
                       line=dict(color="black", width=2)))
    shapes.append(dict(type="rect", xref="paper", yref="paper",
                       x0=px(63 + ox), x1=px(501 + ox), y0=py(83 + oy), y1=py(57 + oy),
                       line=dict(color="black", width=2)))

    note(series_names[i], px(77 + ox), py(20 + oy), 11.5, xanchor="left")
    note("<b>" + plot_title + "</b>", px(282 + ox), py(43 + oy), 15.5)
    note("<b>Time</b>", px(57 + ox), py(29 + oy), 13, xanchor="right")
    note("<b>Series</b>", px(57 + ox), py(43 + oy), 13, xanchor="right")
    note("<b>Events</b>", px(52 + ox), py(73 + oy), 13, xanchor="right")
    note("<b>Time</b>", px(52 + ox), py(248 + oy), 13, xanchor="right")
    note("<b>Test 1D [mm]</b>", px(17 + ox), py(154 + oy), 13.5, angle=-90)
    note("<b>Period</b>", px(518 + ox), py(50 + oy), 12, yanchor="bottom", angle=-90)
    note("<b>[day]</b>", px(528 + ox), py(50 + oy), 12, yanchor="bottom", angle=-90)
    for lab in year_labels:
        note(lab, pd.Timestamp(lab + "-07-02"), py(251 + oy), 14, xref="x" + aid(m))
    note("<b>" + panel_tags[i] + "</b> " + captions[i], px(65 + ox), py(291 + oy), 21,
         xanchor="left", family=SERIF)

layout["annotations"] = annotations
layout["shapes"] = shapes
fig.update_layout(**layout)
fig.write_html("out.html")
